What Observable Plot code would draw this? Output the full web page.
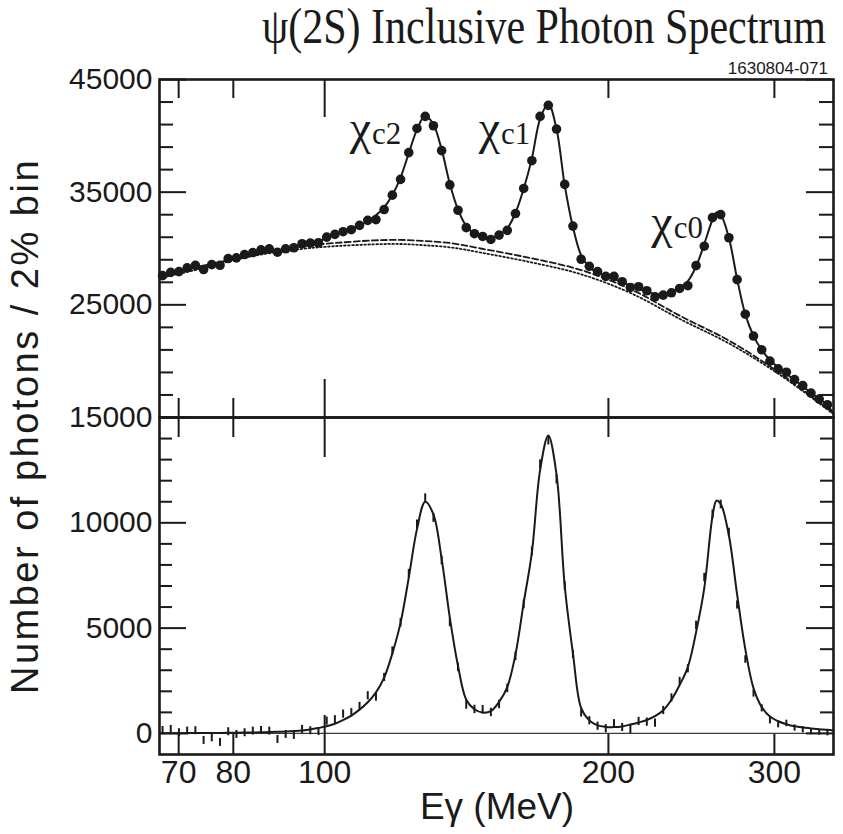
<!DOCTYPE html>
<html>
<head>
<meta charset="utf-8">
<script src="https://cdn.jsdelivr.net/npm/d3@7"></script>
<script src="https://cdn.jsdelivr.net/npm/@observablehq/plot@0.6"></script>
<style>
  html, body { margin: 0; padding: 0; background: #fff; }
  #chart { position: relative; width: 843px; height: 834px; overflow: hidden; background: #fff; }
  #chart svg { position: absolute; left: 0; }
  .lbl { position: absolute; white-space: nowrap; color: #1a1a1a; line-height: 1; }
</style>
</head>
<body>
<div id="chart"></div>
<script>
// Photon energy bin centres (MeV), 2% wide bins
const binE = [
  67.30, 68.66, 70.05, 71.47, 72.92, 74.40, 75.90, 77.44, 79.01, 80.61,
  82.24, 83.90, 85.60, 87.34, 89.11, 90.91, 92.75, 94.63, 96.55, 98.50,
  100.50, 102.53, 104.61, 106.73, 108.89, 111.10, 113.35, 115.64, 117.98, 120.37,
  122.81, 125.30, 127.84, 130.43, 133.07, 135.76, 138.51, 141.32, 144.18, 147.10,
  150.08, 153.12, 156.22, 159.38, 162.61, 165.90, 169.26, 172.69, 176.19, 179.76,
  183.40, 187.11, 190.90, 194.77, 198.71, 202.74, 206.84, 211.03, 215.31, 219.67,
  224.12, 228.66, 233.29, 238.01, 242.83, 247.75, 252.77, 257.89, 263.11, 268.44,
  273.88, 279.42, 285.08, 290.86, 296.75, 302.76, 308.89, 315.15, 321.53, 328.04,
  334.69, 341.47
];

// Inclusive spectrum: photons per bin
const inclusiveCounts = [
  27590, 27885, 27950, 28280, 28510, 28130, 28570, 28510, 29110, 29170,
  29465, 29640, 29885, 29975, 29670, 29975, 30065, 30420, 30475, 30510,
  31010, 31250, 31490, 31670, 32055, 32500, 32565, 33455, 34735, 36135,
  38510, 40655, 41725, 40895, 38690, 35650, 33395, 31850, 31315, 31070,
  30805, 31190, 31610, 33100, 35330, 37795, 41725, 42705, 40600, 35690,
  31990, 29045, 28420, 27950, 27530, 27530, 27055, 26545, 26610, 26250,
  25715, 25865, 26070, 26455, 26700, 28480, 30205, 32740, 33010, 30955,
  27235, 24170, 22230, 21010, 20000, 19315, 19020, 18365, 17830, 17170,
  16635, 16135
];

// Background-subtracted spectrum and its uncertainty
const signalCounts = [
  142, 190, 33, 110, 128, -332, -206, -427, 79, -47,
  33, 110, 142, 110, -285, -47, -95, 190, 128, 95,
  585, 650, 918, 983, 1282, 1790, 1725, 2660, 3910, 5255,
  7580, 9925, 11160, 10232, 8215, 5270, 3134, 1350, 1140, 1125,
  997, 1377, 2137, 3656, 6125, 8640, 12770, 13910, 12060, 7000,
  3750, 973, 603, 342, 223, 460, 285, 190, 570, 537,
  490, 1090, 1685, 2470, 3070, 5130, 7400, 10400, 10870, 9540,
  6100, 3510, 1900, 1190, 617, 427, 475, 260, 180, 85,
  57, 24
];
const signalErr = [
  190, 190, 190, 190, 190, 190, 190, 190, 190, 190,
  190, 190, 190, 190, 190, 190, 190, 190, 190, 190,
  195, 195, 195, 195, 195, 195, 195, 195, 200, 200,
  210, 210, 215, 210, 210, 200, 200, 200, 200, 200,
  200, 200, 200, 200, 205, 210, 215, 215, 215, 205,
  195, 195, 195, 195, 195, 195, 195, 195, 195, 195,
  195, 195, 195, 195, 195, 200, 200, 205, 205, 200,
  195, 180, 175, 170, 165, 160, 155, 150, 150, 145,
  140, 140
];

// Fit curves (sampled at bin centres, plus the range ends and the chi_c0 apex)
const fitE = [66.8, ...binE.slice(0, 68), 260.4, ...binE.slice(68), 346.6];
const fitInclusive = [
  27600,
  27650, 27820, 27990, 28160, 28320, 28480, 28640, 28790, 28940, 29090,
  29240, 29390, 29530, 29670, 29810, 29950, 30090, 30240, 30400, 30650,
  30950, 31220, 31470, 31720, 32030, 32420, 32950, 33650, 34750, 36300,
  38450, 40550, 41800, 41000, 38800, 35750, 33450, 32000, 31300, 30980,
  30900, 31200, 31800, 33150, 35300, 38000, 41500, 42850, 40600, 35600,
  31900, 29400, 28350, 27850, 27550, 27300, 27000, 26700, 26420, 26150,
  25970, 25960, 26150, 26520, 27100, 28400, 30400, 32550, 33200, 33000, 30950,
  27300, 24150, 22250, 21000, 20100, 19450, 18880, 18320, 17770, 17200,
  16660, 16120,
  15300
];
const fitSignal = [
  10,
  10, 12, 14, 16, 18, 20, 23, 26, 30, 35,
  40, 46, 54, 64, 76, 92, 112, 140, 190, 260,
  340, 460, 640, 850, 1130, 1480, 1950, 2650, 3800, 5250,
  7400, 9700, 11000, 10400, 8300, 5500, 3200, 1600, 1150, 990,
  1060, 1500, 2200, 3750, 6200, 8600, 12500, 14150, 12300, 7000,
  3800, 1200, 620, 380, 310, 300, 330, 420, 520, 640,
  820, 1100, 1600, 2300, 3150, 4800, 6900, 10300, 11050, 10900, 9400,
  6600, 4000, 2150, 1250, 800, 580, 440, 340, 280, 240,
  200, 170,
  140
];

// Smooth background shapes
const bkgE = [66.8, 73.9, 83.5, 94.3, 102.2, 112.7, 120.4, 127.4, 136.0, 146.4, 165.4, 186.8, 211.1, 238.5, 269.5, 304.5, 346.6];
const bkgDashed = [27450, 28300, 29465, 30180, 30475, 30715, 30760, 30670, 30480, 30000, 29150, 28100, 26400, 24000, 21750, 18900, 15385];
const bkgDotted = [27380, 28200, 29300, 29950, 30200, 30370, 30400, 30290, 30100, 29640, 28780, 27730, 26050, 23720, 21500, 18750, 15300];

// Peak annotations
const peakNames = ["c2", "c1", "c0"];
const peakLabelE = [112.0, 153.5, 234.0];
const peakLabelY = [39300, 39300, 30950];

// Axis ticks
const xTickLabels = [70, 80, 100, 200, 300];
const xTicksShort = [70, 80, 200, 300];
const xTicksLong = [100];
const topYLabels = [15000, 25000, 35000, 45000];
const topYMinor = [17000, 19000, 21000, 23000, 27000, 29000, 31000, 33000, 37000, 39000, 41000, 43000];
const bottomYLabels = [0, 5000, 10000];
const bottomYMajor = [0, 5000, 10000, 15000];
const bottomYMinor = [1000, 2000, 3000, 4000, 6000, 7000, 8000, 9000, 11000, 12000, 13000, 14000];

const ink = "#1a1a1a";
const W = 843, ML = 159, MR = 10;
const plotW = W - ML - MR;
const xDomain = [66.8, 346.6];
const sans = "'Liberation Sans', Arial, Helvetica, sans-serif";
const serif = "'Liberation Serif', 'Times New Roman', serif";
const svgStyle = {background: "transparent", fontFamily: sans, fontSize: "30px", color: ink, overflow: "visible"};

// Short inward tick marks drawn as inset rules
function yTicks(values, len, side) {
  return Plot.ruleY(values, side === "left"
    ? {insetRight: plotW - len, stroke: ink, strokeWidth: 2}
    : {insetLeft: plotW - len, stroke: ink, strokeWidth: 2});
}
function xTicks(values, len, side, plotH) {
  return Plot.ruleX(values, side === "top"
    ? {insetBottom: plotH - len, stroke: ink, strokeWidth: 2}
    : {insetTop: plotH - len, stroke: ink, strokeWidth: 2});
}

// Upper panel: inclusive spectrum with fit and backgrounds
const topH = 430, topMT = 79, topMB = 13;
const topPH = topH - topMT - topMB;
const upper = Plot.plot({
  width: W, height: topH,
  marginTop: topMT, marginBottom: topMB, marginLeft: ML, marginRight: MR,
  style: svgStyle,
  x: {type: "log", domain: xDomain, axis: null},
  y: {domain: [15000, 45000]},
  marks: [
    Plot.line(bkgE, {x: bkgE, y: bkgDotted, curve: "catmull-rom", stroke: ink, strokeWidth: 1.8, strokeDasharray: "1.6,2.4"}),
    Plot.line(bkgE, {x: bkgE, y: bkgDashed, curve: "catmull-rom", stroke: ink, strokeWidth: 1.8, strokeDasharray: "6,3"}),
    Plot.line(fitE, {x: fitE, y: fitInclusive, curve: "catmull-rom", stroke: ink, strokeWidth: 2}),
    Plot.dot(binE, {x: binE, y: inclusiveCounts, r: 4.8, fill: ink, stroke: null}),
    yTicks(topYLabels, 27, "left"),
    yTicks(topYMinor, 14, "left"),
    yTicks(topYLabels, 27, "right"),
    yTicks(topYMinor, 14, "right"),
    xTicks(xTicksShort, 19, "top", topPH),
    xTicks(xTicksLong, 38, "top", topPH),
    xTicks(xTicksShort, 19, "bottom", topPH),
    xTicks(xTicksLong, 38, "bottom", topPH),
    Plot.frame({stroke: ink, strokeWidth: 2.6}),
    Plot.axisY({ticks: topYLabels, tickSize: 0, tickPadding: 7, tickFormat: d => String(d), label: null}),
    Plot.text(peakNames, {x: peakLabelE, y: peakLabelY, text: () => "χ", textAnchor: "end", lineAnchor: "bottom", fontSize: 48, fontFamily: serif, fill: ink}),
    Plot.text(peakNames, {x: peakLabelE, y: peakLabelY, text: d => d, textAnchor: "start", lineAnchor: "bottom", dx: 1, fontSize: 31, fontFamily: serif, fill: ink})
  ]
});
upper.style.top = "0px";

// Lower panel: background-subtracted spectrum with fit
const botH = 427, botMT = 10, botMB = 80;
const botPH = botH - botMT - botMB;
const lower = Plot.plot({
  width: W, height: botH,
  marginTop: botMT, marginBottom: botMB, marginLeft: ML, marginRight: MR,
  style: svgStyle,
  x: {type: "log", domain: xDomain},
  y: {domain: [-1000, 15000]},
  marks: [
    Plot.ruleY([0], {stroke: "#3a3a3a", strokeWidth: 1.3}),
    Plot.ruleX(binE, {
      x: binE,
      y1: signalCounts.map((v, i) => v - signalErr[i]),
      y2: signalCounts.map((v, i) => v + signalErr[i]),
      stroke: ink, strokeWidth: 2
    }),
    Plot.line(fitE, {x: fitE, y: fitSignal, curve: "catmull-rom", stroke: ink, strokeWidth: 2}),
    yTicks(bottomYMajor, 27, "left"),
    yTicks(bottomYMinor, 13, "left"),
    yTicks(bottomYMajor, 27, "right"),
    yTicks(bottomYMinor, 13, "right"),
    xTicks(xTicksShort, 20, "top", botPH),
    xTicks(xTicksLong, 40, "top", botPH),
    xTicks(xTicksShort, 20, "bottom", botPH),
    xTicks(xTicksLong, 39, "bottom", botPH),
    Plot.frame({stroke: ink, strokeWidth: 2.6}),
    Plot.axisY({ticks: bottomYLabels, tickSize: 0, tickPadding: 7, tickFormat: d => String(d), label: null}),
    Plot.axisX({ticks: xTickLabels, tickSize: 0, tickPadding: 6, tickFormat: d => String(d), label: null, fontSize: 32})
  ]
});
lower.style.top = "407px";

const chart = document.getElementById("chart");
chart.append(upper, lower);

function addLabel(text, css) {
  const el = document.createElement("div");
  el.className = "lbl";
  el.textContent = text;
  Object.assign(el.style, css);
  chart.append(el);
  return el;
}

addLabel("ψ(2S) Inclusive Photon Spectrum", {
  left: "544px", top: "1px", transform: "translateX(-50%) scaleY(1.2)", transformOrigin: "50% 0",
  fontFamily: serif, fontSize: "42px"
});
addLabel("1630804-071", {
  right: "15px", top: "60px", fontFamily: sans, fontSize: "17px"
});
addLabel("Number of photons / 2% bin", {
  left: "25px", top: "426px", transform: "translate(-50%, -50%) rotate(-90deg)",
  fontFamily: sans, fontSize: "38px", letterSpacing: "2.5px"
});
addLabel("Eγ (MeV)", {
  left: "497px", top: "788px", transform: "translateX(-50%)",
  fontFamily: sans, fontSize: "37px"
});
</script>
</body>
</html>
